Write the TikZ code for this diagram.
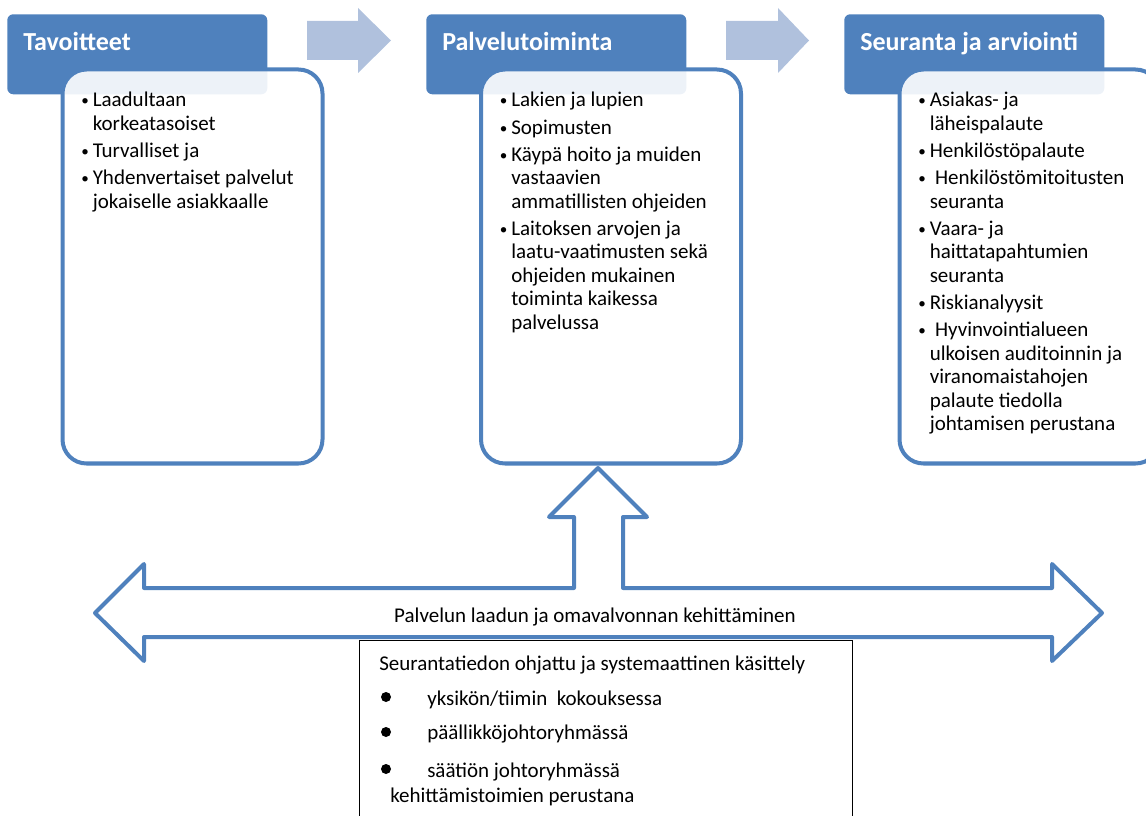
\documentclass[tikz,border=0pt]{standalone}
\usepackage{fontspec}
\setmainfont{Carlito}
\definecolor{hdr}{HTML}{4F81BD}
\definecolor{chev}{HTML}{B0C1DD}
\newcommand\bodyfont{\fontsize{15.75pt}{17.55pt}\selectfont}
\newcommand\itm[1]{\hangindent=9pt\hangafter=1\makebox[9pt][l]{\hspace{0.4pt}\raisebox{0.9pt}{\scalebox{0.72}{•}}}#1\par}
\newcommand\lst[1]{\parbox[t]{240pt}{\bodyfont\parindent=0pt\parskip=2.9pt\relax #1}}
\begin{document}
\begin{tikzpicture}[x=0.75pt,y=-0.75pt,
  header/.style={fill=hdr,draw=none,rounded corners=4.5pt,minimum width=195pt,minimum height=60pt,inner sep=0,anchor=north west},
  body/.style={draw=hdr,line width=3pt,fill=white,fill opacity=0.9,rounded corners=18pt,minimum width=195pt,minimum height=295.5pt,inner sep=0,anchor=north west},
  title/.style={anchor=base west,inner sep=0,text=white,font=\bfseries\fontsize{19.5pt}{22pt}\selectfont},
  list/.style={anchor=base west,inner sep=0},
  chevron/.style={fill=chev,draw=none},
  outl/.style={draw=hdr,line width=3pt,line join=round,fill=white},
  plain/.style={anchor=base west,inner sep=0,font=\bodyfont},
  dot/.style={circle,fill=black,inner sep=0,minimum size=7.5pt}
]
\useasboundingbox (0,0) rectangle (1146,816);

% headers
\node[header] (h1) at (7,14) {};
\node[header] (h2) at (426,14) {};
\node[header] (h3) at (844,14) {};
\node[title] (t1) at (23,51) {Tavoitteet};
\node[title] (t2) at (442,51) {Palvelutoiminta};
\node[title] (t3) at (860,51) {Seuranta ja arviointi};

% bodies
\node[body] (b1) at (60.5,67.5) {};
\node[body] (b2) at (479,67.5) {};
\node[body] (b3) at (897.5,67.5) {};

% chevrons
\path[chevron] (307,21) -- (358,21) -- (358,8) -- (391,40.5) -- (358,73) -- (358,60) -- (307,60) -- cycle;
\path[chevron] (726,21) -- (778,21) -- (778,8) -- (809,40.5) -- (778,73) -- (778,60) -- (726,60) -- cycle;

% lists
\node[list] (l1) at (80.5,107) {\lst{%
\itm{Laadultaan\\korkeatasoiset}
\itm{Turvalliset ja}
\itm{Yhdenvertaiset palvelut\\jokaiselle asiakkaalle}}};
\node[list] (l2) at (499,107) {\lst{%
\itm{Lakien ja lupien}
\itm{Sopimusten}
\itm{Käypä hoito ja muiden\\vastaavien\\ammatillisten ohjeiden}
\itm{Laitoksen arvojen ja\\laatu-vaatimusten sekä\\ohjeiden mukainen\\toiminta kaikessa\\palvelussa}}};
\node[list] (l3) at (917.5,107) {\lst{%
\itm{Asiakas- ja\\läheispalaute}
\itm{Henkilöstöpalaute}
\itm{\hspace{4pt}Henkilöstömitoitusten\\seuranta}
\itm{Vaara- ja\\haittatapahtumien\\seuranta}
\itm{Riskianalyysit}
\itm{\hspace{4pt}Hyvinvointialueen\\ulkoisen auditoinnin ja\\viranomaistahojen\\palaute tiedolla\\johtamisen perustana}}};

% bottom box
\node[draw=black,line width=0.9pt,inner sep=0,minimum width=369.75pt,minimum height=150pt,anchor=north west] (box) at (359,640) {};

% big outline arrow
\draw[outl] (95,613) -- (144,564) -- (144,588) -- (574,588) -- (574,517) -- (549,517) -- (598,468) -- (647,517) -- (623,517) -- (623,588) -- (1052,588) -- (1052,564) -- (1102,613) -- (1052,661) -- (1052,637) -- (144,637) -- (144,661) -- cycle;
\node[anchor=base,inner sep=0,font=\bodyfont] (lbl) at (595,622) {Palvelun laadun ja omavalvonnan kehittäminen};

% bottom texts
\node[plain] (s0) at (379,670) {Seurantatiedon ohjattu ja systemaattinen käsittely};
\node[dot] (d1) at (386,697) {};
\node[dot] (d2) at (386,732) {};
\node[dot] (d3) at (386,769) {};
\node[plain] (s1) at (427,705) {yksikön/tiimin\ \ kokouksessa};
\node[plain] (s2) at (427,739) {päällikköjohtoryhmässä};
\node[plain] (s3) at (427,777) {säätiön johtoryhmässä};
\node[plain] (s4) at (390,802) {kehittämistoimien perustana};
\end{tikzpicture}
\end{document}
